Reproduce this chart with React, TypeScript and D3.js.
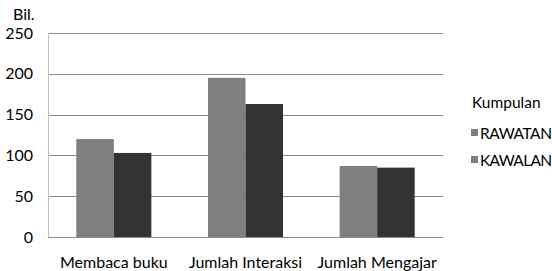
import React, { useEffect, useRef } from 'react'
import * as d3 from 'd3'

const categories = ['Membaca buku', 'Jumlah Interaksi', 'Jumlah Mengajar']
const seriesNames = ['RAWATAN', 'KAWALAN']
const rawatan = [120, 195, 87]
const kawalan = [103, 163, 85]
const yTicks = [0, 50, 100, 150, 200, 250]

const colors = ['#7f7f7f', '#333333']
const legendColors = ['#7f7f7f', '#7f7f7f']
const font = 'Lato, "Open Sans", "Liberation Sans", sans-serif'

const App = () => {
  const ref = useRef<SVGSVGElement>(null)

  useEffect(() => {
    const root = d3.select(ref.current)
    root.selectAll('*').remove()

    const margin = { top: 33, left: 48 }
    const width = 395
    const height = 204

    const svg = root.append('g').attr('transform', `translate(${margin.left}, ${margin.top})`)

    const x = d3.scaleBand().domain(categories).range([0, width]).paddingInner(0.43).paddingOuter(0.215)
    const x1 = d3.scaleBand().domain(seriesNames).range([0, x.bandwidth()])
    const y = d3.scaleLinear().domain([0, 250]).range([height, 0])

    // gridlines
    svg
      .append('g')
      .selectAll('line')
      .data(yTicks.filter(t => t > 0))
      .enter()
      .append('line')
      .attr('x1', 0)
      .attr('x2', width)
      .attr('y1', d => Math.round(y(d)) + 0.5)
      .attr('y2', d => Math.round(y(d)) + 0.5)
      .style('stroke', '#8c8c8c')
      .style('stroke-width', 1)

    // left axis line
    svg
      .append('line')
      .attr('x1', 0.5)
      .attr('x2', 0.5)
      .attr('y1', 0)
      .attr('y2', height)
      .style('stroke', '#bfbfbf')

    const data = categories.map((c, i) => ({ c, vals: [rawatan[i], kawalan[i]] }))

    svg
      .append('g')
      .selectAll('g')
      .data(data)
      .enter()
      .append('g')
      .attr('transform', d => `translate(${x(d.c)}, 0)`)
      .selectAll('rect')
      .data(d => d.vals.map((v, i) => ({ v, s: seriesNames[i], i })))
      .enter()
      .append('rect')
      .attr('x', d => x1(d.s)!)
      .attr('y', d => y(d.v))
      .attr('width', x1.bandwidth())
      .attr('height', d => height - y(d.v))
      .style('fill', d => colors[d.i])

    // bottom axis line
    svg
      .append('line')
      .attr('x1', 0)
      .attr('x2', width)
      .attr('y1', height + 0.5)
      .attr('y2', height + 0.5)
      .style('stroke', '#8c8c8c')

    // y tick labels
    svg
      .append('g')
      .selectAll('text')
      .data(yTicks)
      .enter()
      .append('text')
      .text(d => d)
      .attr('x', -15)
      .attr('y', d => y(d) + 5.5)
      .attr('text-anchor', 'end')
      .attr('font-size', '16px')
      .attr('font-family', font)
      .style('fill', '#000')

    // x labels
    svg
      .append('g')
      .selectAll('text')
      .data(categories)
      .enter()
      .append('text')
      .text(d => d)
      .attr('x', d => x(d)! + x.bandwidth() / 2)
      .attr('y', height + 31)
      .attr('text-anchor', 'middle')
      .attr('font-size', '16px')
      .attr('font-family', font)

    // y label
    svg
      .append('text')
      .text('Bil.')
      .attr('x', -35)
      .attr('y', -13)
      .attr('font-size', '16px')
      .attr('font-family', font)

    // legend
    const legend = root.append('g').attr('transform', 'translate(471, 0)')
    legend
      .append('text')
      .text('Kumpulan')
      .attr('x', 1)
      .attr('y', 108)
      .attr('font-size', '15.5px')
      .attr('font-family', font)
    const items = legend
      .selectAll('g.item')
      .data(seriesNames)
      .enter()
      .append('g')
      .attr('class', 'item')
      .attr('transform', (_, i) => `translate(0, ${133 + i * 27})`)
    items
      .append('rect')
      .attr('x', 0)
      .attr('y', -4)
      .attr('width', 7)
      .attr('height', 7)
      .style('fill', (_, i) => legendColors[i])
    items
      .append('text')
      .text(d => d)
      .attr('x', 9)
      .attr('y', 5.5)
      .attr('font-size', '15.5px')
      .attr('font-family', font)
      .attr('textLength', 72)
  }, [])

  return (
    <svg
      ref={ref}
      width={552}
      height={271}
      style={{ position: 'absolute', left: 0, top: 0, background: '#fff' }}
    />
  )
}

export default App
